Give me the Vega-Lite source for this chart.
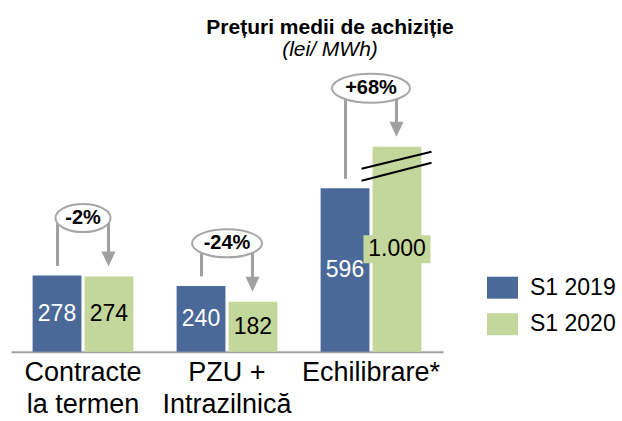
{
  "$schema": "https://vega.github.io/schema/vega-lite/v6.json",
  "width": 432,
  "height": 205,
  "autosize": {"type": "none"},
  "padding": {"left": 11, "top": 146.7, "right": 179, "bottom": 69.3},
  "background": "white",
  "config": {
    "font": "Liberation Sans",
    "view": {"stroke": null},
    "locale": {"number": {"decimal": ",", "thousands": ".", "grouping": [3], "currency": ["", " lei"]}}
  },
  "title": {
    "text": "Prețuri medii de achiziție",
    "subtitle": "(lei/ MWh)",
    "font": "Liberation Sans",
    "fontSize": 21,
    "fontWeight": "bold",
    "color": "black",
    "subtitleFont": "Liberation Sans",
    "subtitleFontSize": 21,
    "subtitleFontStyle": "italic",
    "subtitleColor": "black",
    "subtitlePadding": 1,
    "anchor": "middle",
    "frame": "group",
    "dx": 103,
    "offset": 10
  },
  "data": {
    "values": [
      {"categorie": "Contracte la termen", "S1 2019": 278, "S1 2020": 274, "variatie": "-2%"},
      {"categorie": "PZU + Intrazilnică", "S1 2019": 240, "S1 2020": 182, "variatie": "-24%"},
      {"categorie": "Echilibrare*", "S1 2019": 596, "S1 2020": 1000, "variatie": "+68%"}
    ]
  },
  "encoding": {
    "x": {
      "field": "categorie",
      "type": "nominal",
      "sort": null,
      "scale": {"paddingInner": 0.3, "paddingOuter": 0.15},
      "axis": {
        "title": null,
        "labelAngle": 0,
        "ticks": false,
        "domain": true,
        "domainColor": "#a0a0a0",
        "domainWidth": 2,
        "labelFont": "Liberation Sans",
        "labelFontSize": 27,
        "labelColor": "black",
        "labelLineHeight": 32,
        "labelPadding": 8,
        "labelExpr": "datum.value == 'Contracte la termen' ? ['Contracte', 'la termen'] : datum.value == 'PZU + Intrazilnică' ? ['PZU +', 'Intrazilnică'] : datum.label"
      }
    }
  },
  "layer": [
    {
      "transform": [{"fold": ["S1 2019", "S1 2020"], "as": ["perioada", "valoare"]}],
      "mark": {"type": "bar"},
      "encoding": {
        "xOffset": {"field": "perioada", "type": "nominal", "scale": {"paddingInner": 0.06, "paddingOuter": 0}},
        "y": {"field": "valoare", "type": "quantitative", "scale": {"domain": [0, 748], "clamp": true, "nice": false}, "axis": null},
        "color": {
          "field": "perioada",
          "type": "nominal",
          "scale": {"domain": ["S1 2019", "S1 2020"], "range": ["#4a6999", "#c3d69b"]},
          "legend": {
            "title": null,
            "orient": "none",
            "legendX": 476,
            "legendY": 125.5,
            "symbolType": "M-1,-0.71H1V0.71H-1Z",
            "symbolSize": 961,
            "symbolStrokeWidth": 0,
            "symbolOpacity": 1,
            "labelFont": "Liberation Sans",
            "labelFontSize": 23,
            "labelColor": "black",
            "labelOffset": 12,
            "rowPadding": 8.5,
            "padding": 0
          }
        }
      }
    },
    {
      "transform": [
        {"fold": ["S1 2019", "S1 2020"], "as": ["perioada", "valoare"]},
        {"filter": "datum.valoare > 748"},
        {"calculate": "min(datum.valoare, 748) / 2", "as": "mijloc"}
      ],
      "mark": {"type": "point", "shape": "M-1,-0.418H1V0.418H-1Z", "size": 4489, "filled": true, "opacity": 1, "color": "#c3d69b", "xOffset": -1},
      "encoding": {
        "xOffset": {"field": "perioada", "type": "nominal", "scale": {"paddingInner": 0.06, "paddingOuter": 0}},
        "y": {"field": "mijloc", "type": "quantitative", "scale": {"domain": [0, 748], "clamp": true, "nice": false}, "axis": null}
      }
    },
    {
      "transform": [
        {"fold": ["S1 2019", "S1 2020"], "as": ["perioada", "valoare"]},
        {"calculate": "min(datum.valoare, 748) / 2", "as": "mijloc"}
      ],
      "mark": {"type": "text", "fontSize": 23, "baseline": "middle", "align": "center", "font": "Liberation Sans"},
      "encoding": {
        "xOffset": {"field": "perioada", "type": "nominal", "scale": {"paddingInner": 0.06, "paddingOuter": 0}},
        "y": {"field": "mijloc", "type": "quantitative", "scale": {"domain": [0, 748], "clamp": true, "nice": false}, "axis": null},
        "text": {"field": "valoare", "type": "quantitative", "format": ",.0f"},
        "color": {"condition": {"test": "datum.perioada === 'S1 2019'", "value": "white"}, "value": "black"}
      }
    },
    {
      "transform": [{"filter": "datum['S1 2020'] > 748"}],
      "mark": {"type": "point", "shape": "M-1,0.086L1,-0.4M-1,0.43L1,-0.086", "size": 4900, "filled": false, "opacity": 1, "stroke": "black", "strokeWidth": 2, "xOffset": 25.5, "yOffset": 19},
      "encoding": {
        "y": {"field": "S1 2020", "type": "quantitative", "scale": {"domain": [0, 748], "clamp": true, "nice": false}, "axis": null}
      }
    },
    {
      "mark": {"type": "rule", "color": "#a0a0a0", "strokeWidth": 3, "xOffset": -25.5, "yOffset": -9.5, "y2Offset": -58.5},
      "encoding": {
        "y": {"field": "S1 2019", "type": "quantitative", "scale": {"domain": [0, 748], "clamp": true, "nice": false}, "axis": null},
        "y2": {"field": "S1 2020"}
      }
    },
    {
      "mark": {"type": "rule", "color": "#a0a0a0", "strokeWidth": 3, "xOffset": 25.5, "yOffset": -58.5, "y2Offset": -24},
      "encoding": {
        "y": {"field": "S1 2020", "type": "quantitative", "scale": {"domain": [0, 748], "clamp": true, "nice": false}, "axis": null},
        "y2": {"field": "S1 2020"}
      }
    },
    {
      "mark": {"type": "point", "shape": "M-1,-1.07L1,-1.07L0,1.07Z", "size": 196, "filled": true, "opacity": 1, "color": "#a0a0a0", "xOffset": 25.5, "yOffset": -17.5},
      "encoding": {
        "y": {"field": "S1 2020", "type": "quantitative", "scale": {"domain": [0, 748], "clamp": true, "nice": false}, "axis": null}
      }
    },
    {
      "mark": {"type": "point", "size": 6084, "filled": false, "opacity": 1, "fill": "white", "fillOpacity": 1, "stroke": "#a6a6a6", "strokeWidth": 2, "yOffset": -58.5},
      "encoding": {
        "y": {"field": "S1 2020", "type": "quantitative", "scale": {"domain": [0, 748], "clamp": true, "nice": false}, "axis": null},
        "shape": {
          "field": "categorie",
          "type": "nominal",
          "legend": null,
          "scale": {
            "domain": ["Contracte la termen", "PZU + Intrazilnică", "Echilibrare*"],
            "range": [
              "M-0.705,0A0.705,0.359,0,1,0,0.705,0A0.705,0.359,0,1,0,-0.705,0Z",
              "M-0.897,0A0.897,0.359,0,1,0,0.897,0A0.897,0.359,0,1,0,-0.897,0Z",
              "M-1,0A1,0.372,0,1,0,1,0A1,0.372,0,1,0,-1,0Z"
            ]
          }
        }
      }
    },
    {
      "mark": {"type": "text", "fontSize": 20, "fontWeight": "bold", "baseline": "middle", "align": "center", "color": "black", "yOffset": -58.5, "font": "Liberation Sans"},
      "encoding": {
        "y": {"field": "S1 2020", "type": "quantitative", "scale": {"domain": [0, 748], "clamp": true, "nice": false}, "axis": null},
        "text": {"field": "variatie", "type": "nominal"}
      }
    }
  ]
}
